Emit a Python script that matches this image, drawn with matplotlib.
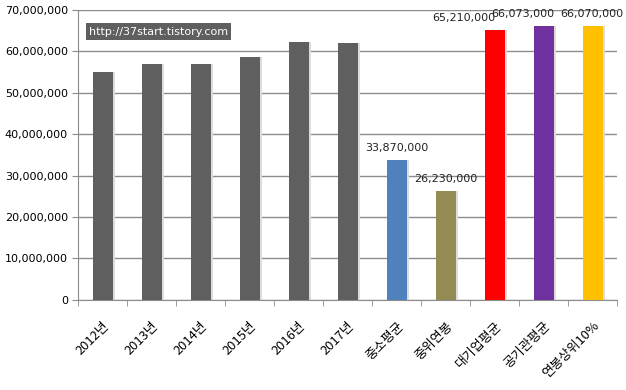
import numpy as np
import matplotlib.pyplot as plt
from matplotlib.ticker import FuncFormatter, FixedLocator

plt.rcParams['font.family'] = ['Noto Sans CJK KR', 'DejaVu Sans']

# 데이터
categories = ["2012년", "2013년", "2014년", "2015년", "2016년", "2017년",
              "중소평균", "중위연봉", "대기업평균", "공기관평균", "연봉상위10%"]
values = [55100000, 57000000, 57000000, 58700000, 62300000, 62000000,
          33870000, 26230000, 65210000, 66073000, 66070000]
colors = ["#5f5f5f"] * 6 + ["#4f81bd", "#948a54", "#ff0000", "#7030a0", "#ffc000"]
labeled = [False] * 6 + [True] * 5
label_shift = [0] * 6 + [0, 0, -22, -15, -1]

fig = plt.figure(figsize=(6.26, 3.9), dpi=100)
ax = fig.add_axes([0.125, 0.231, 0.861, 0.744])

x = np.arange(len(categories))
# 그림자
ax.bar(x + 0.06, values, width=0.4, color="#dcdcdc", zorder=2)
ax.bar(x, values, width=0.4, color=colors, zorder=3)

for i in range(len(categories)):
    if labeled[i]:
        ax.annotate(f"{values[i]:,}", (x[i], values[i]), xytext=(label_shift[i], 5),
                    textcoords="offset points", ha="center", va="bottom",
                    fontsize=8, color="#222222", family="DejaVu Sans")

ax.set_xlim(-0.5, len(categories) - 0.5)
ax.set_ylim(0, 70000000)
ax.set_yticks(np.arange(0, 70000001, 10000000))
ax.yaxis.set_major_formatter(FuncFormatter(lambda v, p: f"{int(v):,}"))
ax.grid(axis="y", color="#8c8c8c", linewidth=1, zorder=0)

ax.set_xticks(x)
ax.set_xticklabels(categories, rotation=45, ha="right", rotation_mode="anchor", fontsize=9.3)
ax.tick_params(axis="x", length=0, pad=14)
ax.xaxis.set_minor_locator(FixedLocator(np.arange(-0.5, len(categories), 1)))
ax.tick_params(axis="x", which="minor", length=4, color="#8c8c8c")
ax.tick_params(axis="y", length=4, color="#8c8c8c", labelsize=8)
for lab in ax.get_yticklabels():
    lab.set_family("DejaVu Sans")

for s in ["top", "right"]:
    ax.spines[s].set_visible(False)
for s in ["left", "bottom"]:
    ax.spines[s].set_color("#8c8c8c")

ax.text(0.02, 0.925, "http://37start.tistory.com", transform=ax.transAxes,
        color="white", fontsize=8, family="DejaVu Sans", va="center", zorder=5,
        bbox=dict(boxstyle="square,pad=0.3", facecolor="#5f5f5f", edgecolor="none"))

fig.savefig("out.png", dpi=100)
